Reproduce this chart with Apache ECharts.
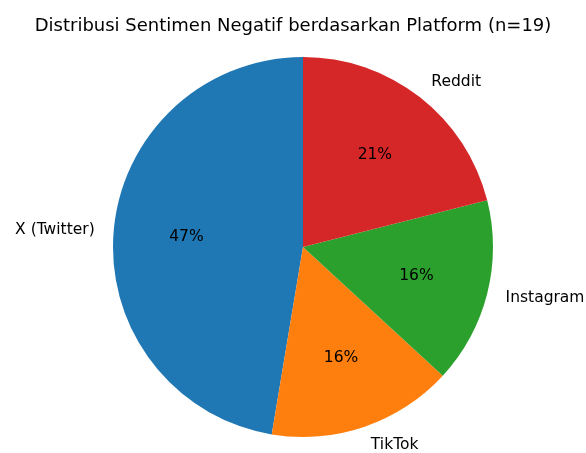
<!DOCTYPE html>
<html><head><meta charset="utf-8">
<script src="https://cdn.jsdelivr.net/npm/echarts@6/dist/echarts.min.js"></script>
<style>html,body{margin:0;padding:0;background:#fff}#c{width:586px;height:453px}</style>
</head><body><div id="c"></div>
<script>
const titleText = 'Distribusi Sentimen Negatif berdasarkan Platform (n=19)';
const categories = ['X (Twitter)', 'TikTok', 'Instagram', 'Reddit'];
const counts = [9, 3, 3, 4];
const colors = ['#1f77b4', '#ff7f0e', '#2ca02c', '#d62728'];

const font = 'DejaVu Sans';
const chart = echarts.init(document.getElementById('c'), null, {renderer: 'canvas'});
const center = [303, 247];
const R = 190;
chart.setOption({
  animation: false,
  backgroundColor: '#fff',
  title: {text: titleText, left: 'center', top: 12,
    textStyle: {fontFamily: font, fontSize: 18, fontWeight: 'normal', color: '#000'}},
  series: [{
    type: 'pie', center: center, radius: [0, R], startAngle: 90, clockwise: false,
    avoidLabelOverlap: false, silent: true,
    data: categories.map((c, i) => ({name: c, value: counts[i], itemStyle: {color: colors[i]}})),
    itemStyle: {borderWidth: 0},
    label: {show: true, position: 'outside', formatter: '{b}', fontFamily: font, fontSize: 15.5, color: '#000', distanceToLabelLine: 0},
    labelLine: {show: false, length: 19, length2: 0}
  }, {
    type: 'pie', center: center, radius: [38, R], startAngle: 90, clockwise: false,
    avoidLabelOverlap: false, silent: true,
    data: categories.map((c, i) => ({name: c, value: counts[i], itemStyle: {color: 'rgba(0,0,0,0)'}})),
    label: {show: true, position: 'inside', formatter: p => Math.round(p.percent) + '%', fontFamily: font, fontSize: 15.5, color: '#000'},
    labelLine: {show: false}
  }]
});
</script></body></html>
